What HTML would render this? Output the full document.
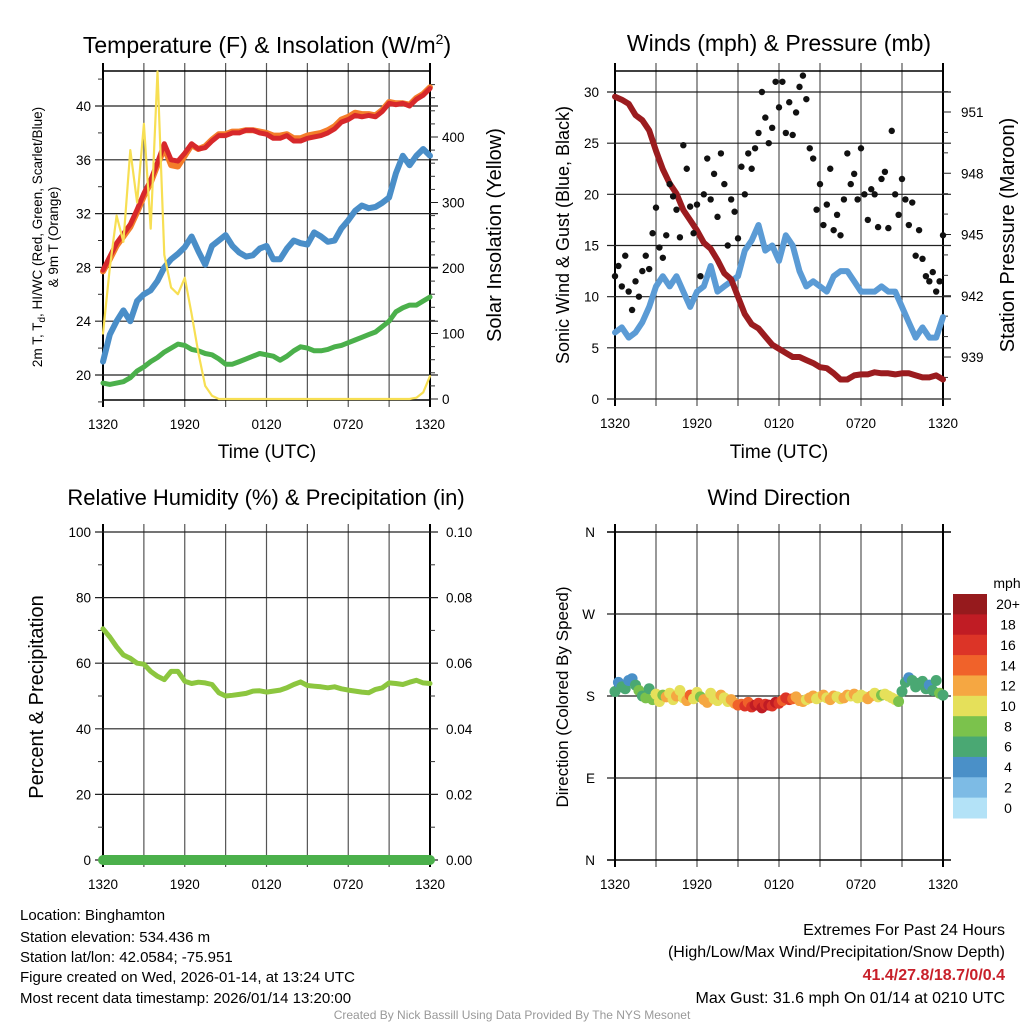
<!DOCTYPE html>
<html><head><meta charset="utf-8"><style>
html,body{margin:0;padding:0;background:#fff;}
svg{display:block;font-family:"Liberation Sans",Arial,sans-serif;}
</style></head><body>
<svg id="s" width="1024" height="1024" viewBox="0 0 1024 1024" xmlns="http://www.w3.org/2000/svg">
<rect width="1024" height="1024" fill="#fff"/>
<g id="static">
<text x="267" y="53" text-anchor="middle" font-size="23">Temperature (F) &amp; Insolation (W/m<tspan dy="-9" font-size="14">2</tspan><tspan dy="9">)</tspan></text>
<text x="779" y="51" text-anchor="middle" font-size="23">Winds (mph) &amp; Pressure (mb)</text>
<text x="266" y="505" text-anchor="middle" font-size="22">Relative Humidity (%) &amp; Precipitation (in)</text>
<text x="779" y="505" text-anchor="middle" font-size="22">Wind Direction</text>
<text x="267" y="458" text-anchor="middle" font-size="19">Time (UTC)</text>
<text x="779" y="458" text-anchor="middle" font-size="19">Time (UTC)</text>
<text transform="translate(42,237) rotate(-90)" text-anchor="middle" font-size="13.5">2m T, T<tspan dy="3" font-size="10">d</tspan><tspan dy="-3">, HI/WC (Red, Green, Scarlet/Blue)</tspan></text>
<text transform="translate(58,237) rotate(-90)" text-anchor="middle" font-size="13.5">&amp; 9m T (Orange)</text>
<text transform="translate(501,235) rotate(-90)" text-anchor="middle" font-size="20">Solar Insolation (Yellow)</text>
<text transform="translate(569,235) rotate(-90)" text-anchor="middle" font-size="18">Sonic Wind &amp; Gust (Blue, Black)</text>
<text transform="translate(1014,235) rotate(-90)" text-anchor="middle" font-size="20">Station Pressure (Maroon)</text>
<text transform="translate(43,697) rotate(-90)" text-anchor="middle" font-size="20">Percent &amp; Precipitation</text>
<text transform="translate(568,697) rotate(-90)" text-anchor="middle" font-size="17">Direction (Colored By Speed)</text>
<g font-size="15">
<text x="20" y="920">Location: Binghamton</text>
<text x="20" y="942">Station elevation: 534.436 m</text>
<text x="20" y="962">Station lat/lon: 42.0584; -75.951</text>
<text x="20" y="982">Figure created on Wed, 2026-01-14, at 13:24 UTC</text>
<text x="20" y="1003">Most recent data timestamp: 2026/01/14 13:20:00</text>
</g>
<g font-size="16" text-anchor="end">
<text x="1005" y="935">Extremes For Past 24 Hours</text>
<text x="1005" y="957">(High/Low/Max Wind/Precipitation/Snow Depth)</text>
<text x="1005" y="980" fill="#c8202a" font-weight="bold">41.4/27.8/18.7/0/0.4</text>
<text x="1005" y="1003">Max Gust: 31.6 mph On 01/14 at 0210 UTC</text>
</g>
<text x="512" y="1019" text-anchor="middle" font-size="12" fill="#999">Created By Nick Bassill Using Data Provided By The NYS Mesonet</text>
</g>
</svg>
<script>
// ---- data (index = half-hour steps from 1320 UTC) ----
const xTickLabels = ["1320","1920","0120","0720","1320"];
const tempTicks = [20,24,28,32,36,40];
const solarTicks = [0,100,200,300,400];
const windTicks = [0,5,10,15,20,25,30];
const pressTicks = [939,942,945,948,951];
const rhTicks = [0,20,40,60,80,100];
const precipTicks = ["0.00","0.02","0.04","0.06","0.08","0.10"];
const dirTicks = ["N","E","S","W","N"];
const temp2m = [27.8,28.8,29.8,30.5,31.2,32.3,33.5,34.5,35.8,37.2,36.0,35.9,36.5,37.2,36.8,36.9,37.4,37.8,37.8,38.0,38.0,38.2,38.2,38.0,37.9,37.6,37.6,37.8,37.4,37.4,37.6,37.7,37.8,38.0,38.3,38.8,39.0,39.3,39.2,39.3,39.2,39.6,40.2,40.1,40.2,40.0,40.5,40.8,41.3];
const temp9m = [27.7,28.6,29.6,30.3,31.0,32.1,33.3,34.3,35.6,36.9,35.6,35.5,36.3,37.1,36.8,37.0,37.5,37.9,37.9,38.1,38.1,38.2,38.2,38.1,38.0,37.8,37.8,37.9,37.6,37.6,37.8,37.9,38.0,38.2,38.5,39.0,39.2,39.5,39.4,39.4,39.3,39.7,40.3,40.2,40.2,40.1,40.6,40.9,41.4];
const dewpoint = [21.0,23.0,24.0,24.8,24.0,25.5,26.0,26.3,27.0,28.0,28.6,29.0,29.5,30.3,29.2,28.2,29.6,30.0,30.4,29.6,29.1,28.8,28.9,29.4,29.6,28.6,28.6,29.4,30.0,29.8,29.7,30.6,30.3,29.9,30.0,30.9,31.5,32.2,32.6,32.4,32.5,32.8,33.2,35.0,36.3,35.6,36.3,36.8,36.3];
const windChill = [19.4,19.3,19.4,19.5,19.8,20.3,20.6,21.0,21.3,21.7,22.0,22.3,22.2,21.9,21.8,21.6,21.5,21.2,20.8,20.8,21.0,21.2,21.4,21.6,21.5,21.4,21.1,21.4,21.8,22.1,22.0,21.8,21.8,21.9,22.1,22.2,22.4,22.6,22.8,23.0,23.2,23.6,24.0,24.7,25.0,25.2,25.2,25.5,25.8];
const solar = [100,200,280,240,380,300,420,260,500,220,170,160,185,130,70,20,5,0,0,0,0,0,0,0,0,0,0,0,0,0,0,0,0,0,0,0,0,0,0,0,0,0,0,0,0,0,2,10,35];
const windSpeed = [6.5,7,6,6.5,7.5,9,11,12,11,12,10.5,9,10.5,11,13,10.5,11,11.5,12,14.5,15.5,17,14.5,15,13.5,16,15,12.5,11,11.5,11,10.5,12,12.5,12.5,11.5,10.5,10.5,10.5,11,10.5,10.5,9,7.5,6,7,6,6,8];
const windGust = [12,13,11,14,10.5,8.7,11.5,10,12.5,14,12.7,16.2,18.7,14.8,13.8,16,21,19.8,18.5,15.8,24.8,22.5,18.8,16.2,19,12,20,23.5,19.5,22,17.8,24,21,15,19.5,18.3,15.7,22.7,20,24,22.5,24.5,26,30,27.5,25,26.5,31,28.5,31,26,29,25.8,28,30.5,31.6,29.3,24.5,23.5,18.5,21,17,19,22.5,16.5,18,16,19.5,24,21,22,19.5,24.5,20,17.5,20.5,20,16.8,21.5,22.2,16.7,26.2,20,18,21.5,19.5,17,19.2,14,16.5,13.7,12,11.5,12.4,10.5,11.5,16];
const pressure = [951.75,951.6,951.4,950.85,950.6,950.1,949.1,948.2,947.5,947.0,946.2,945.7,945.2,944.6,944.3,943.75,943.1,942.8,941.95,941.1,940.6,940.4,940.0,939.6,939.4,939.2,939.0,939.0,938.85,938.7,938.5,938.45,938.2,937.9,937.9,938.1,938.15,938.15,938.25,938.2,938.2,938.15,938.2,938.2,938.1,938.0,938.0,938.1,937.9];
const relHumidity = [70.5,68,65,62.5,61.5,60,59.7,57.5,56,55,57.5,57.5,54.5,53.8,54.2,54,53.5,51,50,50.2,50.5,50.8,51.5,51.6,51.2,51.5,51.8,52.5,53.5,54.3,53.2,53,52.8,52.5,52.8,52.2,51.8,51.5,51.2,51,52,52.5,54,53.8,53.5,54.2,54.8,54,53.8];
const precip = [0,0,0,0,0,0,0,0,0,0,0,0,0,0,0,0,0,0,0,0,0,0,0,0,0,0,0,0,0,0,0,0,0,0,0,0,0,0,0,0,0,0,0,0,0,0,0,0,0];
// wind direction, quarter-hour steps
const windDir = [185,195,190,188,197,199,192,186,180,178,188,176,182,174,181,179,183,176,180,186,178,175,181,177,184,179,176,173,183,177,175,181,178,174,176,172,170,171,169,173,168,170,172,167,171,170,169,173,172,175,178,176,177,179,175,174,176,178,180,177,179,181,178,176,180,179,177,178,181,180,182,178,181,179,177,180,183,179,181,182,180,178,176,174,185,195,200,197,190,194,196,188,192,186,197,183,181];
const dirSpeed = [6,5,6,7,4,4,6,8,7,9,6,8,10,11,9,12,10,11,12,10,11,12,14,10,11,9,12,13,11,10,11,12,10,11,12,13,14,15,16,15,17,18,17,19,16,18,17,19,16,15,17,16,14,13,12,12,11,13,12,11,10,12,11,13,12,11,10,12,13,11,12,11,10,11,12,13,11,10,9,11,10,11,10,8,7,6,5,6,6,7,6,6,5,6,7,8,7];
const legendLabels = ["20+","18","16","14","12","10","8","6","4","2","0"];
const legendColors = ["#961a1d","#c01c24","#dc3427","#f0622a","#f5a742","#e5e05a","#7bc24c","#4aa873","#4a90c8","#7dbbe5","#b3e2f7"];

const NS="http://www.w3.org/2000/svg";
const svg=document.getElementById('s');
function mk(tag,attrs,parent){const e=document.createElementNS(NS,tag);for(const k in attrs)e.setAttribute(k,attrs[k]);(parent||svg).appendChild(e);return e;}
function lin(d0,d1,r0,r1){return v=>r0+(v-d0)/(d1-d0)*(r1-r0);}

function frame(px0,px1,py0,py1,name){
  const g=mk('g',{});
  
  
  for(let i=0;i<=8;i++){const x=px0+(px1-px0)*i/8;
    const l=mk('line',{x1:x,x2:x,y1:py0-8,y2:py1+7,stroke:(i==0||i==8)?'#000':'#555','stroke-width':(i==0||i==8)?2:1.2},g);
    
    }
  for(let i=0;i<5;i++){const x=px0+(px1-px0)*i/4;
    const t=mk('text',{x:x,y:py1+29,'text-anchor':'middle','font-size':13.5},g);t.textContent=xTickLabels[i];
    
    }
  return g;
}
function hgrid(g,y,x0,x1,color){mk('line',{x1:x0-8,x2:x1+8,y1:y,y2:y,stroke:color||'#222','stroke-width':1.2},g);}
function line(arr,xs,ys,color,w,name){
  const n=arr.length;const pts=arr.map((v,i)=>xs(i*48/(n-1)).toFixed(1)+','+ys(v).toFixed(1)).join(' ');
  const p=mk('polyline',{points:pts,fill:'none',stroke:color,'stroke-width':w,'stroke-linejoin':'round','stroke-linecap':'round'});
  
  
  return p;
}

// ===== Panel 1: temperature =====
{const X0=103,X1=430,Y0=71,Y1=400;
 const xs=lin(0,48,X0,X1);const ys=lin(20,40,375,106);const ss=lin(0,400,399,137);
 const g=frame(X0,X1,Y0,Y1,'temperature');
 tempTicks.forEach(v=>{hgrid(g,ys(v),X0,X1);const t=mk('text',{x:X0-12,y:ys(v)+5,'text-anchor':'end','font-size':13.5},g);t.textContent=v;
   
   });
 for(let v=18;v<=42;v+=2){if(v%4)mk('line',{x1:X0-5,x2:X0,y1:ys(v),y2:ys(v),stroke:'#333'},g);}
 solarTicks.forEach(v=>{mk('line',{x1:X1,x2:X1+8,y1:ss(v),y2:ss(v),stroke:'#222'},g);const t=mk('text',{x:X1+12,y:ss(v)+5,'font-size':13.5},g);t.textContent=v;
   
   });
 for(let v=20;v<=500;v+=20){if(v%100)mk('line',{x1:X1,x2:X1+5,y1:ss(v),y2:ss(v),stroke:'#333'},g);}
 mk('line',{x1:X0,x2:X1,y1:Y0,y2:Y0,stroke:'#000','stroke-width':1.5},g);
 mk('line',{x1:X0,x2:X1,y1:Y1,y2:Y1,stroke:'#000','stroke-width':1.5},g);
 line(windChill,xs,ys,'#4bb04b',5,'wind-chill-line');
 line(dewpoint,xs,ys,'#4a8ec8',6,'dewpoint-line');
 line(temp9m,xs,ys,'#f47d2a',6,'temp-9m-line');
 line(temp2m,xs,ys,'#d7282b',5,'temp-2m-line');
 line(solar,xs,ss,'#f7df53',2.2,'solar-line');
}
// ===== Panel 2: winds =====
{const X0=615,X1=943,Y0=71,Y1=399;
 const xs=lin(0,48,X0,X1);const ws=lin(0,30,399,92);const ps=lin(939,951,357,112);
 const g=frame(X0,X1,Y0,Y1,'winds');
 windTicks.forEach(v=>{hgrid(g,ws(v),X0,X1);const t=mk('text',{x:X0-16,y:ws(v)+5,'text-anchor':'end','font-size':13.5},g);t.textContent=v;
   
   });
 pressTicks.forEach(v=>{mk('line',{x1:X1,x2:X1+8,y1:ps(v),y2:ps(v),stroke:'#222'},g);const t=mk('text',{x:X1+18,y:ps(v)+5,'font-size':13.5},g);t.textContent=v;
   
   });
 for(let v=938;v<=952;v++){if((v-939)%3)mk('line',{x1:X1,x2:X1+5,y1:ps(v),y2:ps(v),stroke:'#333'},g);}
 mk('line',{x1:X0,x2:X1,y1:Y0,y2:Y0,stroke:'#000','stroke-width':1.5},g);
 line(windSpeed,xs,ws,'#5b9bd5',6,'wind-speed-line');
 line(pressure,xs,ps,'#9b1c1f',6,'pressure-line');
 windGust.forEach((v,i)=>{const c=mk('circle',{cx:xs(i*48/(windGust.length-1)),cy:ws(v),r:3.2,fill:'#111'});
   
   });
}
// ===== Panel 3: humidity =====
{const X0=103,X1=430,Y0=532,Y1=860;
 const xs=lin(0,48,X0,X1);const ys=lin(0,100,860,532);const pr=lin(0,0.1,860,532);
 const g=frame(X0,X1,Y0,Y1,'humidity');
 rhTicks.forEach(v=>{hgrid(g,ys(v),X0,X1);const t=mk('text',{x:X0-12,y:ys(v)+5,'text-anchor':'end','font-size':13.5},g);t.textContent=v;
   
   });
 for(let v=10;v<100;v+=20)mk('line',{x1:X0-5,x2:X0,y1:ys(v),y2:ys(v),stroke:'#333'},g);
 precipTicks.forEach((v,i)=>{const t=mk('text',{x:X1+16,y:pr(+v)+5,'font-size':13.5},g);t.textContent=v;
   
   });
 for(let v=0.01;v<0.1;v+=0.02)mk('line',{x1:X1,x2:X1+5,y1:pr(v),y2:pr(v),stroke:'#333'},g);
 line(precip,xs,pr,'#4bb04b',10,'precip-bar');
 mk('line',{x1:X0,x2:X1,y1:Y1,y2:Y1,stroke:'#000','stroke-width':1.5},g);
 line(relHumidity,xs,ys,'#8cc63f',5,'rh-line');
}
// ===== Panel 4: wind direction =====
{const X0=615,X1=943,Y0=532,Y1=860;
 const xs=lin(0,48,X0,X1);const ds=lin(0,360,860,532);
 const g=frame(X0,X1,Y0,Y1,'wind-direction');
 dirTicks.forEach((v,i)=>{const y=ds(i*90);if(i>0&&i<4)hgrid(g,y,X0,X1);else mk('line',{x1:X0-8,x2:X1+8,y1:y,y2:y,stroke:'#000','stroke-width':1.5},g);
   const t=mk('text',{x:X0-20,y:y+5,'text-anchor':'end','font-size':13.5},g);t.textContent=v;
   
   });
 windDir.forEach((v,i)=>{const sp=dirSpeed[i];const bin=Math.min(10,Math.floor(sp/2));
   const c=mk('circle',{cx:xs(i*48/(windDir.length-1)),cy:ds(v),r:5.5,fill:legendColors[10-bin]});
   
   });
 const lg=mk('g',{});
 
 
 const u=mk('text',{x:1007,y:588,'text-anchor':'middle','font-size':14},lg);u.textContent='mph';
 const bh=(818-594)/11;
 legendLabels.forEach((l,i)=>{mk('rect',{x:953,y:594+i*bh,width:34,height:bh+0.5,fill:legendColors[i]},lg);
   const t=mk('text',{x:1008,y:594+i*bh+bh/2+5,'text-anchor':'middle','font-size':14},lg);t.textContent=l;
   
   });
}
</script>
</body></html>
